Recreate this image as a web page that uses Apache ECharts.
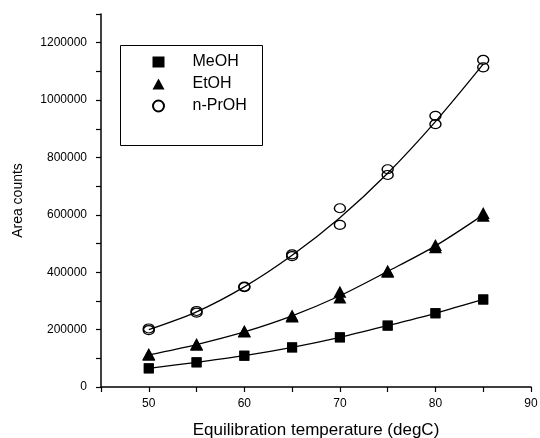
<!DOCTYPE html>
<html>
<head>
<meta charset="utf-8">
<script src="https://cdn.jsdelivr.net/npm/echarts@6/dist/echarts.min.js"></script>
<style>html,body{margin:0;padding:0;background:#fff}#c{width:540px;height:438px}</style>
</head>
<body>
<div id="c"></div>
<script>
const temps = [50, 55, 60, 65, 70, 75, 80, 85];
const meohRep1 = [65000, 86000, 109000, 138000, 173000, 214000, 257000, 305000];
const meohRep2 = [65000, 86000, 109000, 138000, 173000, 214000, 257000, 305000];
const etohRep1 = [115000, 150000, 195000, 249000, 332000, 405000, 495000, 606000];
const etohRep2 = [112000, 147000, 193000, 246000, 312000, 402000, 487000, 597000];
const nproRep1 = [204000, 265000, 350000, 462000, 623000, 759000, 945000, 1140000];
const nproRep2 = [198000, 259000, 348000, 456000, 565000, 739000, 916000, 1114000];
const meohFit = [65000, 86000, 109000, 138000, 173000, 214000, 257000, 305000];
const etohFit = [112000, 148000, 192000, 248000, 318000, 403000, 492000, 600000];
const nproFit = [200000, 262000, 349000, 459000, 590000, 745000, 925000, 1125000];
const seriesNames = ['MeOH', 'EtOH', 'n-PrOH'];

function pts(a, b) {
  const out = [];
  temps.forEach((t, i) => { out.push([t, a[i]]); out.push([t, b[i]]); });
  return out;
}
function line(f) { return temps.map((t, i) => [t, f[i]]); }

const font = "'Liberation Sans', Arial, sans-serif";
const chart = echarts.init(document.getElementById('c'), null, {renderer: 'canvas'});
const lineStyle = {color: '#000', width: 1.3};
chart.setOption({
  animation: false,
  backgroundColor: '#fff',
  grid: {left: 101, top: 14, right: 9, bottom: 51, containLabel: false, outerBoundsMode: 'none'},
  graphic: [{
    type: 'rect', left: 118, top: 43, z: 0,
    shape: {width: 142, height: 100},
    style: {fill: 'none', stroke: '#000', lineWidth: 1}
  }],
  legend: {
    data: [
      {name: 'MeOH', icon: 'rect', itemStyle: {color: '#000'}},
      {name: 'EtOH', icon: 'triangle', itemStyle: {color: '#000'}},
      {name: 'n-PrOH', icon: 'circle'}
    ],
    orient: 'vertical',
    left: 152, top: 54,
    padding: 0,
    itemWidth: 12, itemHeight: 11, itemGap: 6,
    textStyle: {fontFamily: font, fontSize: 16, color: '#000', lineHeight: 16, padding: [0, 0, 0, 23]}
  },
  xAxis: {
    type: 'value', min: 45, max: 90, interval: 5,
    name: 'Equilibration temperature (degC)',
    nameLocation: 'middle', nameGap: 35,
    nameTextStyle: {fontFamily: font, fontSize: 17, color: '#000'},
    axisLine: {lineStyle: {color: '#000', width: 1.5}},
    axisTick: {length: 5, lineStyle: {color: '#000', width: 1.2}},
    axisLabel: {margin: 11, fontFamily: font, fontSize: 12, color: '#000',
      formatter: v => (v % 10 === 0 ? String(v) : '')},
    splitLine: {show: false}
  },
  yAxis: {
    type: 'value', min: 0, max: 1300000, interval: 100000,
    name: 'Area counts',
    nameLocation: 'middle', nameGap: 76, nameRotate: 90,
    nameTextStyle: {fontFamily: font, fontSize: 14, color: '#000'},
    axisLine: {lineStyle: {color: '#000', width: 1.5}},
    axisTick: {length: 5, lineStyle: {color: '#000', width: 1.2}},
    axisLabel: {margin: 14, fontFamily: font, fontSize: 12, color: '#000',
      formatter: v => (v % 200000 === 0 && v <= 1200000 ? String(v) : '')},
    splitLine: {show: false}
  },
  series: [
    {name: 'MeOH fit', type: 'line', data: line(meohFit), smooth: 0.3, symbol: 'none', lineStyle, z: 1},
    {name: 'EtOH fit', type: 'line', data: line(etohFit), smooth: 0.3, symbol: 'none', lineStyle, z: 1},
    {name: 'n-PrOH fit', type: 'line', data: line(nproFit), smooth: 0.3, symbol: 'none', lineStyle, z: 1},
    {name: 'MeOH', type: 'scatter', data: pts(meohRep1, meohRep2), symbol: 'rect', symbolSize: 10,
      itemStyle: {color: '#000', opacity: 1}, z: 3},
    {name: 'EtOH', type: 'scatter', data: pts(etohRep1, etohRep2), symbol: 'triangle', symbolSize: [13, 12],
      itemStyle: {color: '#000', opacity: 1}, z: 3},
    {name: 'n-PrOH', type: 'scatter', data: pts(nproRep1, nproRep2), symbol: 'circle', symbolSize: [11, 9],
      itemStyle: {color: 'rgba(255,255,255,0)', borderColor: '#000', borderWidth: 1.3, opacity: 1}, z: 3}
  ]
});
</script>
</body>
</html>
